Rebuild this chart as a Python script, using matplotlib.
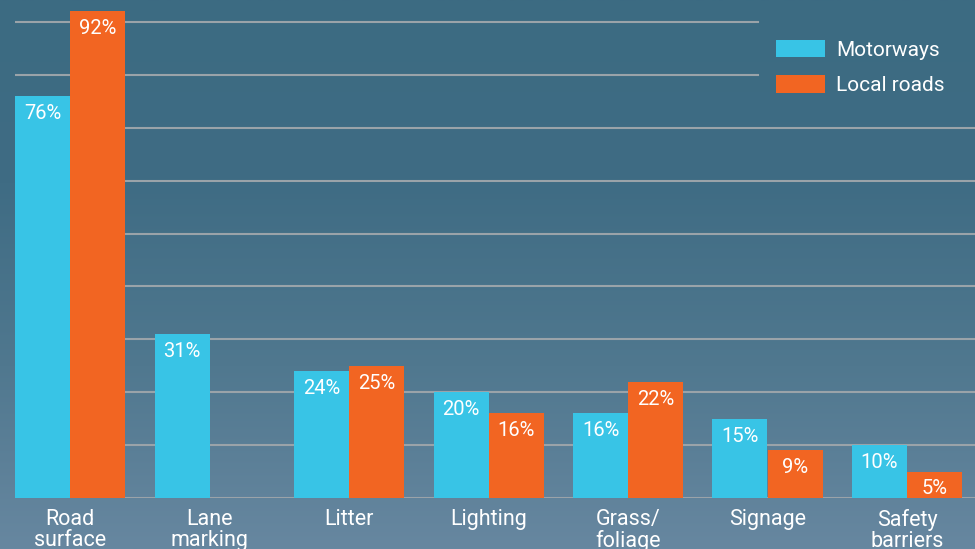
import numpy as np
import matplotlib.pyplot as plt
from matplotlib.colors import LinearSegmentedColormap

plt.rcParams['font.family'] = ['Roboto', 'DejaVu Sans']

# 数据
categories = ['Road\nsurface', 'Lane\nmarking', 'Litter', 'Lighting',
              'Grass/\nfoliage', 'Signage', 'Safety\nbarriers']
motorways = [76, 31, 24, 20, 16, 15, 10]
local_roads = [92, np.nan, 25, 16, 22, 9, 5]
grid_levels = [10, 20, 30, 40, 50, 60, 70, 80, 90]

cyan = '#38c4e6'
orange = '#f26522'

fig = plt.figure(figsize=(9.75, 5.49), dpi=100)

# 背景渐变
bg = fig.add_axes([0, 0, 1, 1], zorder=0)
grad = LinearSegmentedColormap.from_list('bg', ['#3c6b82', '#3f6c84', '#50788f', '#6787a0'])
bg.imshow(np.linspace(0, 1, 256).reshape(-1, 1), aspect='auto', cmap=grad,
          extent=[0, 1, 0, 1], origin='upper')
bg.axis('off')

ax = fig.add_axes([15 / 975, 51 / 549, 960 / 975, 498 / 549], zorder=1)
ax.patch.set_alpha(0)

x = np.arange(len(categories))
w = 55 / 139.5

# 网格线（上面两条较短，给图例留位置）
for g in grid_levels:
    xmax = (758 - 15) / 960 if g >= 80 else 1
    ax.axhline(g, xmin=0, xmax=xmax, color='#9aa3a9', lw=1.5, zorder=1)
ax.axhline(0, color='#9aa3a9', lw=1.5, zorder=1)

b1 = ax.bar(x - w / 2, motorways, w, color=cyan, label='Motorways', zorder=2)
b2 = ax.bar(x + w / 2, local_roads, w, color=orange, label='Local roads', zorder=2)

for bars, vals in [(b1, motorways), (b2, local_roads)]:
    for rect, v in zip(bars, vals):
        if np.isnan(v):
            continue
        ax.text(rect.get_x() + rect.get_width() / 2, v - 1.5, f'{v:.0f}%',
                ha='center', va='top', color='white', fontsize=14.5, zorder=3)

ax.set_xlim(-w, 6 + (975 - 907) / 139.5)
ax.set_ylim(0, 498 / 5.29)
ax.set_xticks(x)
ax.set_xticklabels(categories, color='white', fontsize=15.5, linespacing=1.0)
ax.tick_params(axis='x', length=0, pad=8)
ax.set_yticks([])
for s in ax.spines.values():
    s.set_visible(False)

leg = ax.legend(loc='upper left', bbox_to_anchor=((776 - 15) / 960, (498 - 40) / 498),
                frameon=False, fontsize=15, handlelength=2.35, handleheight=0.9,
                labelspacing=0.75, handletextpad=0.55, borderpad=0, borderaxespad=0)
for t in leg.get_texts():
    t.set_color('white')

fig.savefig('out.png', dpi=100)
